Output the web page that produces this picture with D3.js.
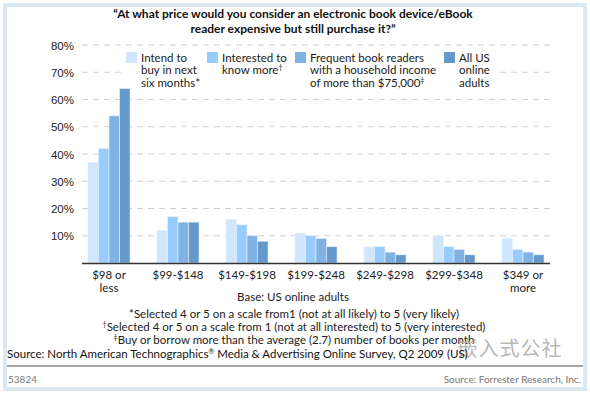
<!DOCTYPE html>
<html>
<head>
<meta charset="utf-8">
<script src="https://cdn.jsdelivr.net/npm/d3@7"></script>
<style>
  body { margin: 0; background: #fff; }
  svg { display: block; font-family: Lato, "Open Sans", sans-serif; }
</style>
</head>
<body>
<svg id="chart" width="590" height="394"></svg>
<script>
// data
const categories = [["$98 or", "less"], ["$99-$148"], ["$149-$198"], ["$199-$248"], ["$249-$298"], ["$299-$348"], ["$349 or", "more"]];
const seriesNames = ["intend", "interested", "frequent", "all"];
const intendValues = [37, 12, 16, 11, 6, 10, 9];
const interestedValues = [42, 17, 14, 10, 6, 6, 5];
const frequentValues = [54, 15, 10, 9, 4, 5, 4];
const allValues = [64, 15, 8, 6, 3, 3, 3];
const yTicks = [10, 20, 30, 40, 50, 60, 70, 80];
// [text, superscript]
const legendLabels = [
  [["Intend to"], ["buy in next"], ["six months*"]],
  [["Interested to"], ["know more", "\u2020"]],
  [["Frequent book readers"], ["with a household income"], ["of more than $75,000", "\u2021"]],
  [["All US"], ["online"], ["adults"]]
];
const titleLines = ["\u201CAt what price would you consider an electronic book device/eBook", "reader expensive but still purchase it?\u201D"];
const footnotes = [
  ["", "*Selected 4 or 5 on a scale from1 (not at all likely) to 5 (very likely)"],
  ["\u2020", "Selected 4 or 5 on a scale from 1 (not at all interested) to 5 (very interested)"],
  ["\u2021", "Buy or borrow more than the average (2.7) number of books per month"]
];
const colors = ["#cfe6fc", "#99ccfe", "#80b2e4", "#6699cb"];

const seriesValues = [intendValues, interestedValues, frequentValues, allValues];

const svg = d3.select('#chart');

// frame
svg.append('rect')
  .attr('x', 5).attr('y', 5).attr('width', 580).attr('height', 384)
  .attr('fill', '#fff').attr('stroke', '#dbe9f3').attr('stroke-width', 4);

// title
svg.append('g').selectAll('text').data(titleLines).join('text')
  .attr('x', 293).attr('y', (d, i) => 18 + i * 15)
  .attr('text-anchor', 'middle')
  .attr('font-size', 12).attr('font-weight', 'bold').attr('fill', '#111')
  .text(d => d);

// scales
const x = d3.scaleBand()
  .domain(d3.range(categories.length))
  .range([74.5, 557.5])
  .paddingInner(0.39).paddingOuter(0.195);
const xs = d3.scaleBand().domain(seriesNames).range([0, x.bandwidth()]);
const y = d3.scaleLinear().domain([0, 80]).range([263, 45]);

// grid
svg.append('g').selectAll('line').data(yTicks).join('line')
  .attr('x1', 82).attr('x2', 550)
  .attr('y1', d => y(d)).attr('y2', d => y(d))
  .attr('stroke', '#d0d0d0').attr('stroke-dasharray', '6,5');

// y labels
const yAxis = svg.append('g').attr('transform', 'translate(74,0)')
  .call(d3.axisLeft(y).tickValues(yTicks).tickSize(0).tickPadding(0).tickFormat(d => d + '%'));
yAxis.select('.domain').remove();
yAxis.selectAll('text').attr('font-size', 11.5).attr('font-family', null).attr('fill', '#222').attr('dy', '0.36em');

// legend background and items
svg.append('rect').attr('x', 122).attr('y', 50).attr('width', 372).attr('height', 44).attr('fill', '#fff');
const legendX = [126, 207, 295, 444];
const lg = svg.append('g').selectAll('g').data(legendLabels).join('g')
  .attr('transform', (d, i) => `translate(${legendX[i]},52)`);
lg.append('rect').attr('width', 11).attr('height', 11).attr('fill', (d, i) => colors[i]);
const lt = lg.selectAll('text').data(d => d).join('text')
  .attr('x', 15).attr('y', (d, i) => 10 + i * 12.3)
  .attr('font-size', 11.5).attr('fill', '#222');
lt.append('tspan').text(d => d[0]);
lt.filter(d => d[1]).append('tspan')
  .attr('font-size', 7).attr('dy', -4).text(d => d[1]);

// bars
const groups = svg.append('g').selectAll('g').data(categories).join('g')
  .attr('transform', (d, i) => `translate(${x(i)},0)`);
groups.selectAll('rect')
  .data((d, i) => seriesNames.map((s, k) => ({ s, k, v: seriesValues[k][i] })))
  .join('rect')
  .attr('x', d => xs(d.s)).attr('width', xs.bandwidth())
  .attr('y', d => y(d.v)).attr('height', d => y(0) - y(d.v))
  .attr('fill', d => colors[d.k])
  .attr('stroke', '#e6f2ff').attr('stroke-width', 0.6);

// x axis
svg.append('line').attr('x1', 82).attr('x2', 550).attr('y1', 263.5).attr('y2', 263.5)
  .attr('stroke', '#333').attr('stroke-width', 1.5);
groups.selectAll('text').data(d => d).join('text')
  .attr('x', x.bandwidth() / 2).attr('y', (d, i) => 279 + i * 13)
  .attr('text-anchor', 'middle').attr('font-size', 11.5).attr('fill', '#222')
  .text(d => d);

// base + footnotes
svg.append('text').attr('x', 293).attr('y', 301).attr('text-anchor', 'middle')
  .attr('font-size', 11.5).attr('fill', '#222').text('Base: US online adults');
const fn = svg.append('g').selectAll('text').data(footnotes).join('text')
  .attr('x', 294).attr('y', (d, i) => 318 + i * 13)
  .attr('text-anchor', 'middle').attr('font-size', 11.5).attr('fill', '#222');
fn.append('tspan').attr('font-size', 7).attr('dy', -4).text(d => d[0]);
fn.append('tspan').attr('dy', d => d[0] ? 4 : 0).text(d => d[1]);

// watermark
svg.append('text').attr('x', 510).attr('y', 356).attr('text-anchor', 'middle')
  .attr('font-family', '"Noto Sans CJK SC"').attr('font-size', 20).attr('fill', '#b8b8b8')
  .attr('letter-spacing', 1).text('嵌入式公社');

// source
const src = svg.append('text').attr('x', 7).attr('y', 358)
  .attr('font-size', 11.5).attr('fill', '#111');
src.append('tspan').text('Source: North American Technographics');
src.append('tspan').attr('font-size', 7).attr('dy', -4).text('\u00AE');
src.append('tspan').attr('dy', 4).text(' Media & Advertising Online Survey, Q2 2009 (US)');
svg.append('line').attr('x1', 7).attr('x2', 583).attr('y1', 366).attr('y2', 366)
  .attr('stroke', '#888').attr('stroke-width', 1.5);
svg.append('text').attr('x', 8).attr('y', 383)
  .attr('font-size', 10).attr('fill', '#777').text('53824');
svg.append('text').attr('x', 581).attr('y', 383).attr('text-anchor', 'end')
  .attr('font-size', 10).attr('fill', '#777').text('Source: Forrester Research, Inc.');
</script>
</body>
</html>
